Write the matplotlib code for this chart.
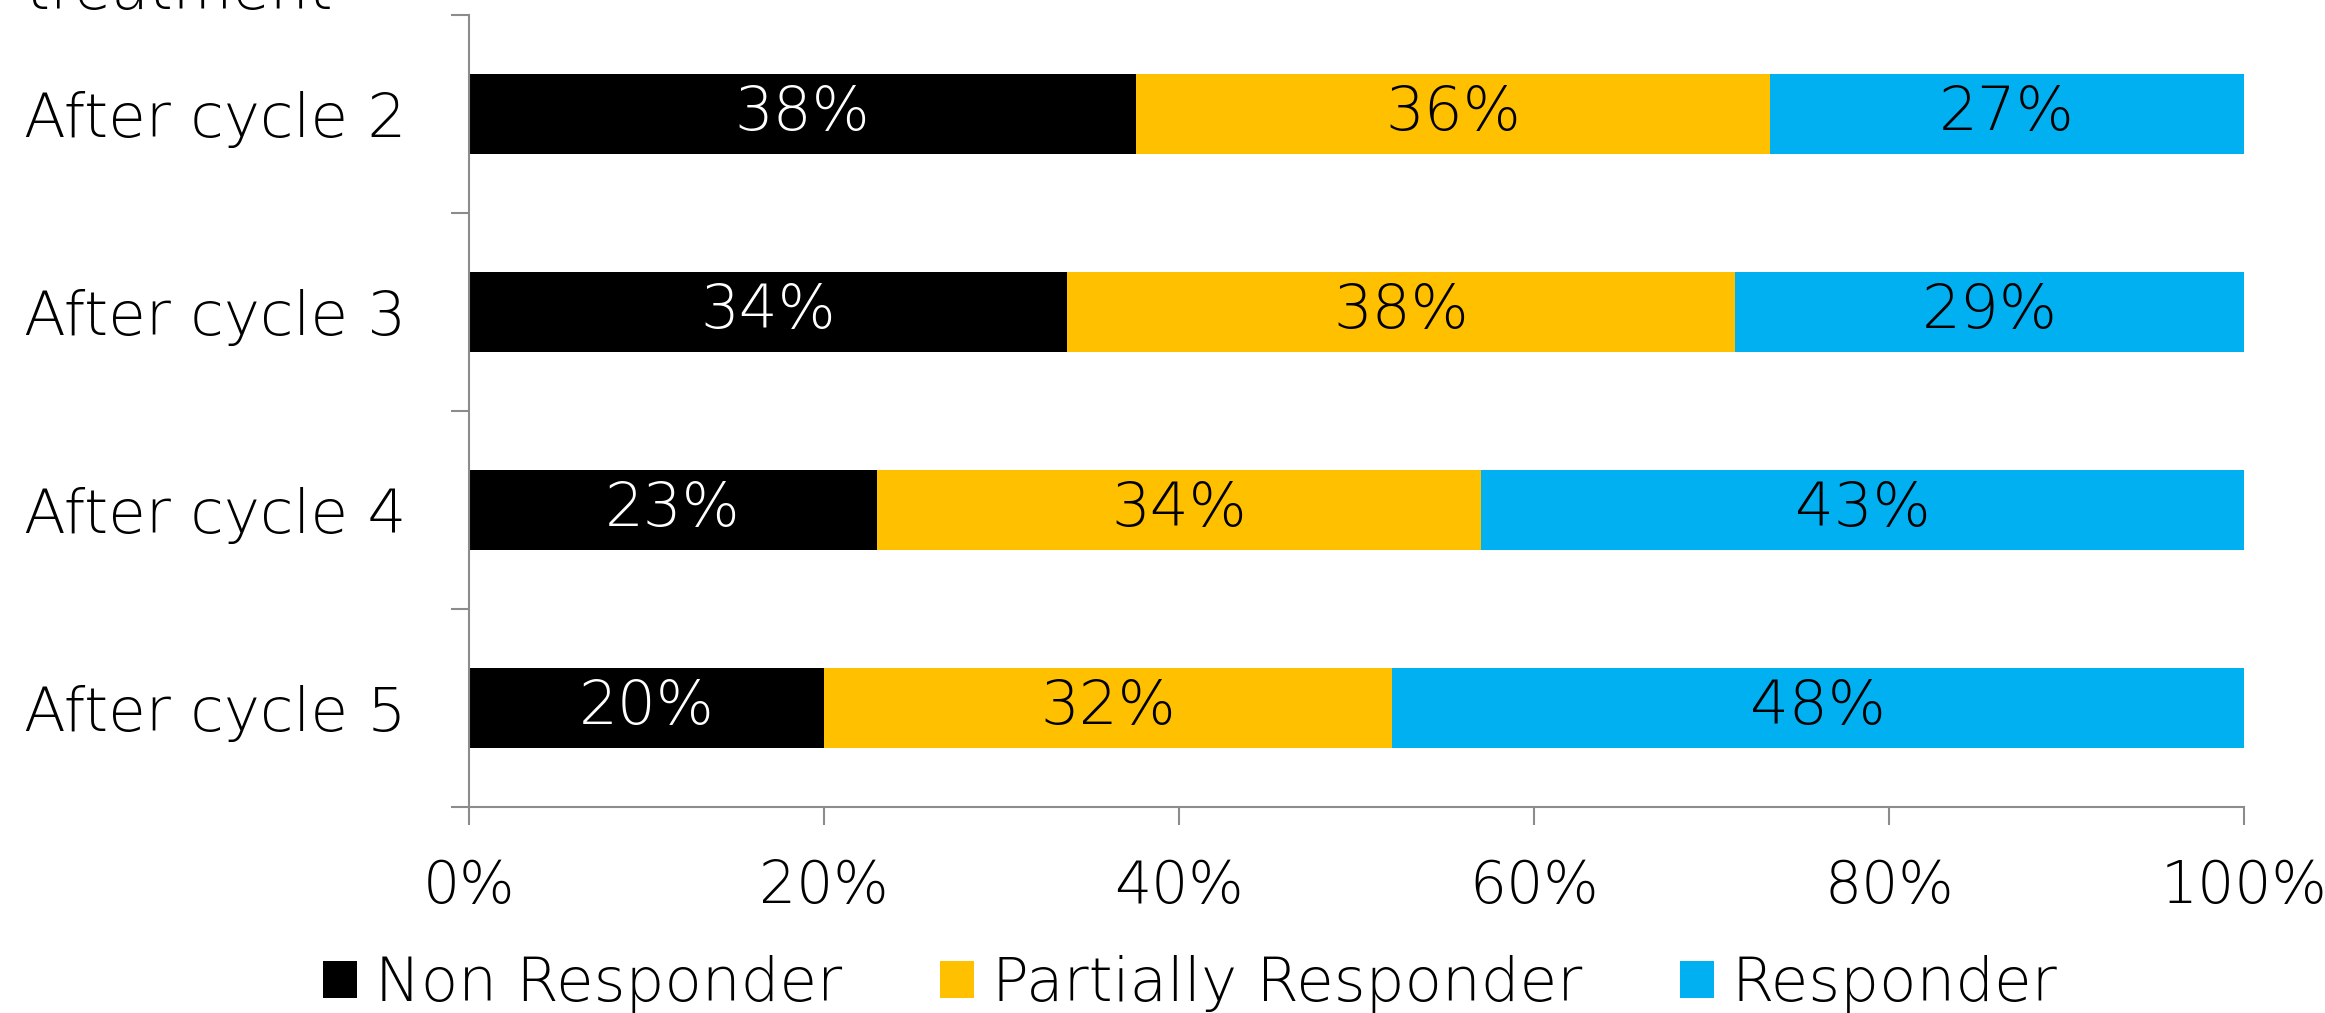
import numpy as np
import matplotlib
matplotlib.use("Agg")
import matplotlib.pyplot as plt
from matplotlib.ticker import FixedLocator, PercentFormatter

# shares of patients per response class, by cycle (percent)
cycles = ["After cycle 2", "After cycle 3", "After cycle 4", "After cycle 5"]
non_responder = [37.6, 33.7, 23.0, 20.0]
partial_responder = [35.7, 37.6, 34.0, 32.0]
responder = [26.7, 28.7, 43.0, 48.0]
series_names = ["Non Responder", "Partially Responder", "Responder"]
x_ticks = [0, 20, 40, 60, 80, 100]

colors = ["#000000", "#FFC000", "#00B0F0"]
label_colors = ["white", "black", "black"]
grey = "#8c8c8c"

plt.rcParams["font.family"] = ["DejaVu Sans"]
plt.rcParams["font.weight"] = "light"
fs = 44

fig = plt.figure(figsize=(23.25, 10.13), dpi=100)
ax = fig.add_axes([0.2017, 0.2034, 0.7635, 0.7818])

y = np.arange(len(cycles))
left = np.zeros(len(cycles))
for vals, name, col, lc in zip([non_responder, partial_responder, responder],
                               series_names, colors, label_colors):
    vals = np.array(vals)
    ax.barh(y, vals, left=left, height=0.4, color=col, label=name)
    for yi, l, v in zip(y, left, vals):
        ax.text(l + v / 2, yi, f"{v:.0f}%", ha="center", va="center",
                color=lc, fontsize=fs)
    left += vals

ax.set_xlim(0, 100)
ax.set_ylim(len(cycles) - 0.5, -0.5)

ax.xaxis.set_major_locator(FixedLocator(x_ticks))
ax.xaxis.set_major_formatter(PercentFormatter(decimals=0))
ax.set_yticks(y)
ax.set_yticklabels(cycles)
ax.yaxis.set_minor_locator(FixedLocator(np.arange(-0.5, len(cycles), 1.0)))

ax.tick_params(axis="x", length=13, width=1.5, color=grey, pad=24, labelsize=42)
ax.tick_params(axis="y", which="major", length=0, pad=45, labelsize=fs)
ax.tick_params(axis="y", which="minor", length=13, width=1.5, color=grey)

for s in ["top", "right"]:
    ax.spines[s].set_visible(False)
for s in ["left", "bottom"]:
    ax.spines[s].set_color(grey)
    ax.spines[s].set_linewidth(1.5)

fig.text(0.011, 0.991, "treatment", fontsize=fs, ha="left", va="baseline")

fig.legend(loc="center", bbox_to_anchor=(0.512, 0.028), ncol=3, frameon=False,
           fontsize=fs, handlelength=0.56, handleheight=0.56,
           handletextpad=0.29, columnspacing=1.6, borderaxespad=0)

fig.savefig("out.png", dpi=100)
